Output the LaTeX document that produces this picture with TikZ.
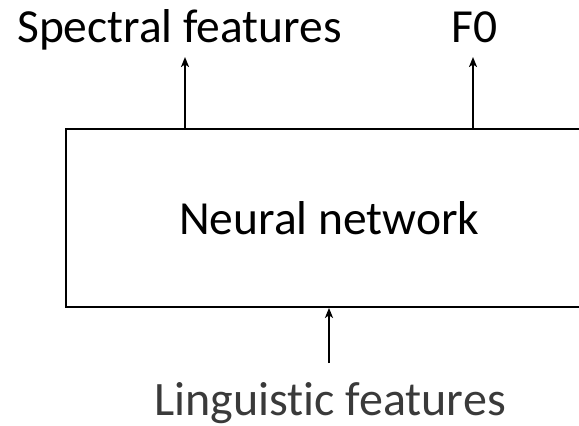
\documentclass[tikz,border=0pt]{standalone}
\usepackage{fontspec}
\setmainfont{Carlito}[Ligatures=NoCommon]
\usetikzlibrary{arrows.meta}
\definecolor{lingGray}{HTML}{3A3A3A}
\begin{document}
\begin{tikzpicture}[x=1pt,y=-1pt,
  lbl/.style={font=\fontsize{47.5}{52}\selectfont, inner sep=0pt, anchor=base west},
  conn/.style={line width=1.8pt, -{Stealth[length=10pt,width=8pt,inset=2.5pt]}},
  nnbox/.style={draw, line width=1.8pt, minimum width=514pt, minimum height=178pt, inner sep=0pt}]
  \useasboundingbox (0,0) rectangle (579,426);
  \node[nnbox] (net) at (323,218) {};
  \node[lbl] (nettext) at (179,234) {Neural network};
  \node[lbl] (spec) at (17,42) {Spectral features};
  \node[lbl] (f0) at (451,42) {F0};
  \node[lbl, font=\fontsize{48}{52}\selectfont, text=lingGray] (ling) at (154,415) {Linguistic features};
  \coordinate (specTip) at (185,57);
  \coordinate (f0Tip) at (473,57);
  \coordinate (lingTail) at (329,363);
  \draw[conn] (net.north -| specTip) -- (specTip);
  \draw[conn] (net.north -| f0Tip) -- (f0Tip);
  \draw[conn] (lingTail) -- (lingTail |- net.south);
\end{tikzpicture}
\end{document}
